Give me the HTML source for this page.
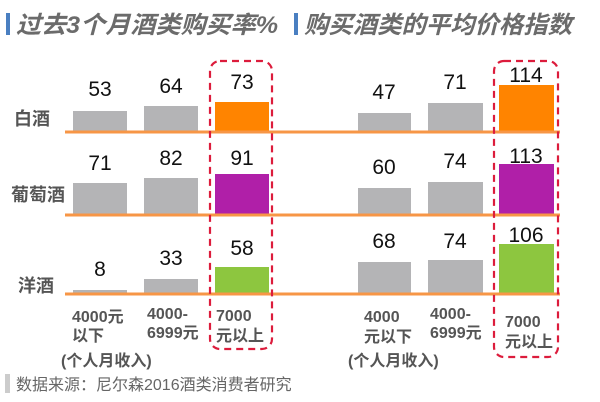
<!DOCTYPE html>
<html><head><meta charset="utf-8"><style>
body{margin:0;background:#fff;width:600px;height:402px;overflow:hidden}
svg{display:block}
text{font-family:"Liberation Sans","Noto Sans CJK SC",sans-serif}
</style></head><body>
<svg width="600" height="402" xmlns="http://www.w3.org/2000/svg">
<rect x="6" y="13" width="4" height="22" fill="#4a7fc1"/>
<text x="16" y="33" font-size="24" font-weight="bold" font-style="italic" fill="#6b6b6b" textLength="262" lengthAdjust="spacingAndGlyphs">过去3个月酒类购买率%</text>
<rect x="294" y="13" width="4" height="22" fill="#4a7fc1"/>
<text x="304" y="33" font-size="24" font-weight="bold" font-style="italic" fill="#6b6b6b" textLength="268" lengthAdjust="spacingAndGlyphs">购买酒类的平均价格指数</text>
<g font-size="18" font-weight="bold" fill="#555">
<text x="14" y="125">白酒</text><text x="11" y="201">葡萄酒</text><text x="18" y="292">洋酒</text></g>
<g fill="#b4b4b6">
<rect x="73" y="111" width="54" height="21"/><rect x="144" y="106" width="54" height="26"/>
<rect x="358" y="113" width="53" height="19"/><rect x="428" y="103" width="55" height="29"/>
<rect x="73" y="183" width="54" height="32"/><rect x="144" y="178" width="54" height="37"/>
<rect x="358" y="188" width="53" height="27"/><rect x="428" y="182" width="55" height="33"/>
<rect x="73" y="290" width="54" height="4"/><rect x="144" y="279" width="54" height="15"/>
<rect x="358" y="262" width="53" height="32"/><rect x="428" y="260" width="55" height="34"/>
</g>
<rect x="215" y="102" width="54" height="30" fill="#ff8400"/><rect x="499" y="85" width="55" height="47" fill="#ff8400"/>
<rect x="215" y="174" width="54" height="41" fill="#b01fa8"/><rect x="499" y="164" width="55" height="51" fill="#b01fa8"/>
<rect x="215" y="267" width="54" height="27" fill="#8dc63f"/><rect x="499" y="244" width="55" height="50" fill="#8dc63f"/>
<g stroke="#f79646" stroke-width="3">
<line x1="65" y1="132" x2="560" y2="132"/><line x1="65" y1="215" x2="560" y2="215"/><line x1="65" y1="294" x2="560" y2="294"/></g>
<g font-size="21" fill="#111" text-anchor="middle">
<text x="100" y="96">53</text><text x="171" y="93">64</text><text x="242" y="89">73</text>
<text x="384" y="99">47</text><text x="455" y="89">71</text><text x="526" y="82">114</text>
<text x="100" y="170">71</text><text x="171" y="165">82</text><text x="242" y="165">91</text>
<text x="384" y="174">60</text><text x="455" y="168">74</text><text x="526" y="163">113</text>
<text x="100" y="276">8</text><text x="171" y="265">33</text><text x="242" y="255">58</text>
<text x="384" y="248">68</text><text x="455" y="248">74</text><text x="526" y="242">106</text>
</g>
<g fill="none" stroke="#dc1c3c" stroke-width="2.2" stroke-dasharray="7,5">
<rect x="210" y="61" width="62" height="288" rx="10"/><rect x="494" y="61" width="64" height="296" rx="10"/></g>
<g font-size="16" font-weight="bold" fill="#555">
<text x="72" y="322">4000元</text><text x="72" y="341">以下</text>
<text x="147" y="319">4000-</text><text x="147" y="338">6999元</text>
<text x="216" y="321">7000</text><text x="216" y="341">元以上</text>
<text x="61" y="366">(个人月收入)</text>
<text x="364" y="322">4000</text><text x="364" y="342">元以下</text>
<text x="430" y="319">4000-</text><text x="430" y="338">6999元</text>
<text x="505" y="327">7000</text><text x="505" y="347">元以上</text>
<text x="348" y="366">(个人月收入)</text>
</g>
<rect x="5" y="374" width="5" height="19" fill="#ccc"/>
<text x="16" y="390" font-size="16" fill="#666">数据来源：尼尔森2016酒类消费者研究</text>
</svg>
</body></html>
